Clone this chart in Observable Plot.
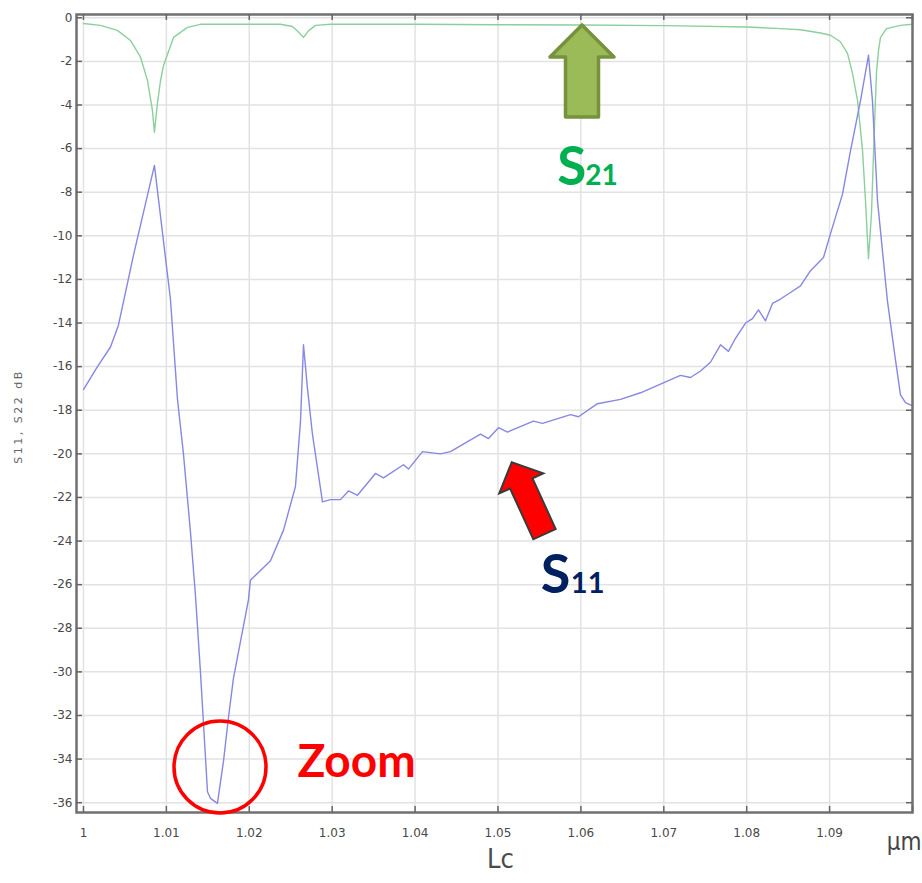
<!DOCTYPE html>
<html>
<head>
<meta charset="utf-8">
<script src="https://cdn.jsdelivr.net/npm/d3@7"></script>
<script src="https://cdn.jsdelivr.net/npm/@observablehq/plot@0.6"></script>
<style>
  html, body { margin: 0; padding: 0; background: #fff; overflow: hidden; }
</style>
</head>
<body>
<div id="chart"></div>
<script>
// ---- Data ----
// S11 (blue)
const lcS11 = [1.0, 1.00169, 1.00326, 1.00422, 1.00603, 1.00856, 1.00989, 1.01049, 1.01134, 1.01206,
  1.01291, 1.01351, 1.01411, 1.01496, 1.01532, 1.01616, 1.01689, 1.01749, 1.01809, 1.0199,
  1.02014, 1.02256, 1.02413, 1.02557, 1.02618, 1.02654, 1.02702, 1.02762, 1.02883, 1.0298,
  1.031, 1.03197, 1.03305, 1.03522, 1.03619, 1.0386, 1.0392, 1.04089, 1.04306, 1.04427,
  1.04789, 1.04885, 1.05006, 1.05115, 1.05428, 1.05537, 1.05875, 1.05971, 1.062, 1.06478,
  1.06719, 1.0696, 1.07201, 1.07322, 1.07443, 1.07563, 1.07684, 1.0778, 1.07865, 1.07986,
  1.0807, 1.08142, 1.08227, 1.08311, 1.08408, 1.08528, 1.08649, 1.0877, 1.08926, 1.09011,
  1.09155, 1.09252, 1.09373, 1.09469, 1.09517, 1.09578, 1.09638, 1.09698, 1.09795, 1.09855,
  1.09916, 1.1];
const dbS11 = [-17.05, -16.0, -15.1, -14.1, -10.9, -6.77, -11.0, -12.9, -17.5, -20.0,
  -23.6, -26.5, -30.0, -35.5, -35.8, -36.03, -34.1, -32.1, -30.3, -26.7,
  -25.8, -24.9, -23.5, -21.5, -18.5, -15.0, -17.0, -19.1, -22.2, -22.1,
  -22.1, -21.7, -21.9, -20.9, -21.1, -20.5, -20.7, -19.9, -20.0, -19.9,
  -19.1, -19.3, -18.8, -19.0, -18.5, -18.6, -18.2, -18.3, -17.7, -17.5,
  -17.2, -16.8, -16.4, -16.5, -16.2, -15.8, -15.0, -15.3, -14.7, -14.0,
  -13.8, -13.4, -13.9, -13.1, -12.9, -12.6, -12.3, -11.6, -11.0, -9.9,
  -8.1, -6.1, -3.8, -1.72, -3.8, -8.4, -10.7, -13.0, -15.7, -17.3,
  -17.65, -17.8];

// S21 (green)
const lcS21 = [1.0, 1.00205, 1.0041, 1.00567, 1.00688, 1.00772, 1.00832, 1.00856, 1.00893, 1.00929,
  1.00965, 1.01086, 1.01255, 1.01411, 1.02014, 1.02376, 1.02521, 1.02593, 1.02654, 1.02714,
  1.02799, 1.0298, 1.04, 1.05, 1.06, 1.07, 1.08, 1.0841, 1.0865, 1.0889,
  1.0901, 1.0913, 1.09216, 1.09276, 1.09337, 1.09397, 1.09433, 1.09469, 1.09505, 1.09541,
  1.09566, 1.0959, 1.09614, 1.09686, 1.09855, 1.1];
const dbS21 = [-0.26, -0.35, -0.58, -1.04, -1.8, -2.87, -4.25, -5.25, -3.9, -2.9,
  -2.2, -0.9, -0.44, -0.3, -0.3, -0.3, -0.4, -0.65, -0.9, -0.6,
  -0.35, -0.3, -0.3, -0.32, -0.33, -0.36, -0.42, -0.5, -0.55, -0.7,
  -0.8, -1.1, -1.63, -2.55, -3.79, -6.08, -8.4, -11.05, -9.0, -5.0,
  -2.5, -1.5, -0.9, -0.5, -0.35, -0.3];

// Axis ticks
const xTicks = [1, 1.01, 1.02, 1.03, 1.04, 1.05, 1.06, 1.07, 1.08, 1.09];
const xTickMarks = [1, 1.01, 1.02, 1.03, 1.04, 1.05, 1.06, 1.07, 1.08, 1.09, 1.1];
const yTicks = [0, -2, -4, -6, -8, -10, -12, -14, -16, -18, -20, -22, -24, -26, -28, -30, -32, -34, -36];

// ---- Layout ----
const W = 922, H = 883;
const mL = 76, mR = 10, mT = 14, mB = 71;
const xDomain = [0.99916, 1.1];
const yDomain = [-36.45, 0.15];
const pxPerX = (W - mL - mR) / (xDomain[1] - xDomain[0]);
const pxPerY = (H - mT - mB) / (yDomain[1] - yDomain[0]);
const tickLen = 6;

const s11Rows = lcS11.map((lc, i) => ({lc, db: dbS11[i]}));
const s21Rows = lcS21.map((lc, i) => ({lc, db: dbS21[i]}));

const tickStyle = {stroke: "#666", strokeWidth: 1.5};

const chart = Plot.plot({
  width: W, height: H,
  marginLeft: mL, marginRight: mR, marginTop: mT, marginBottom: mB,
  style: {fontFamily: "DejaVu Sans, sans-serif", fontSize: "12px", color: "#555", background: "#fff"},
  x: {domain: xDomain, label: null},
  y: {domain: yDomain, label: null},
  marks: [
    Plot.gridX(xTickMarks, {stroke: "#e2e2e2", strokeOpacity: 1, strokeWidth: 1.5}),
    Plot.gridY(yTicks, {stroke: "#e2e2e2", strokeOpacity: 1, strokeWidth: 1.5}),
    Plot.line(s21Rows, {x: "lc", y: "db", stroke: "#8ccf9c", strokeWidth: 1.4}),
    Plot.line(s11Rows, {x: "lc", y: "db", stroke: "#8787e4", strokeWidth: 1.4}),
    Plot.frame({stroke: "#707070", strokeWidth: 2.5}),
    // inward ticks on all four sides
    Plot.ruleX(xTickMarks, {x: d => d, y1: yDomain[0], y2: yDomain[0] + tickLen / pxPerY, ...tickStyle}),
    Plot.ruleX(xTickMarks, {x: d => d, y1: yDomain[1], y2: yDomain[1] - tickLen / pxPerY, ...tickStyle}),
    Plot.ruleY(yTicks, {y: d => d, x1: xDomain[0], x2: xDomain[0] + tickLen / pxPerX, ...tickStyle}),
    Plot.ruleY(yTicks, {y: d => d, x1: xDomain[1], x2: xDomain[1] - tickLen / pxPerX, ...tickStyle}),
    Plot.axisX(xTicks, {tickSize: 0, tickPadding: 16, tickFormat: d => String(+d.toFixed(2)), fontSize: 12, fill: "#484848"}),
    Plot.axisY(yTicks, {tickSize: 0, tickPadding: 4, tickFormat: d => String(d), fontSize: 12, fill: "#484848"}),
    // axis titles
    Plot.text(["S11, S22 dB"], {frameAnchor: "left", textAnchor: "middle", dx: -58, dy: 3, rotate: -90, fontSize: 11, fill: "#666", ariaDescription: "ylabel"}),
    Plot.text(["Lc"], {x: 1.0503, frameAnchor: "bottom", dy: 55, fontSize: 27, fill: "#4a4a4a", fontFamily: "DejaVu Sans Condensed, DejaVu Sans"}),
    Plot.text(["µm"], {frameAnchor: "bottom-right", textAnchor: "end", dx: 9, dy: 37, lineAnchor: "bottom", fontSize: 24, fill: "#444", fontFamily: "DejaVu Sans Condensed, DejaVu Sans"}),
    // annotations
    Plot.dot([{x: 1.01647, y: -34.36}], {x: "x", y: "y", r: 46, stroke: "#ff0000", strokeWidth: 3.5, fill: "none"}),
    Plot.text(["Zoom"], {x: 1.02581, y: -34.84, textAnchor: "start", lineAnchor: "bottom", fontFamily: "Lato", fontWeight: "bold", fontSize: 46, fill: "#ff0000"}),
    Plot.text(["S"], {x: 1.05715, y: -7.69, textAnchor: "start", lineAnchor: "bottom", fontFamily: "Lato", fontWeight: "bold", fontSize: 53, fill: "#00B050"}),
    Plot.text(["21"], {x: 1.05715, y: -7.69, dx: 28, textAnchor: "start", lineAnchor: "bottom", fontFamily: "Lato", fontWeight: "bold", fontSize: 28, fill: "#00B050"}),
    Plot.text(["S"], {x: 1.05517, y: -26.4, textAnchor: "start", lineAnchor: "bottom", fontFamily: "Lato", fontWeight: "bold", fontSize: 54, fill: "#002060"}),
    Plot.text(["11"], {x: 1.05517, y: -26.4, dx: 30, textAnchor: "start", lineAnchor: "bottom", fontFamily: "Lato", fontWeight: "bold", fontSize: 29, fill: "#002060"})
  ]
});

document.getElementById("chart").appendChild(chart);

// letter spacing of the rotated y title
d3.select(chart).selectAll('g[aria-description="ylabel"] text').style("letter-spacing", "2.5px");

// block arrows positioned through the chart's scales
const sx = chart.scale("x"), sy = chart.scale("y");
function arrowPath(tip, tail, s, h, L) {
  const t = [sx.apply(tip[0]), sy.apply(tip[1])];
  const b = [sx.apply(tail[0]), sy.apply(tail[1])];
  const dx = t[0] - b[0], dy = t[1] - b[1], len = Math.hypot(dx, dy);
  const ux = dx / len, uy = dy / len, nx = -uy, ny = ux;
  const hx = t[0] - ux * L, hy = t[1] - uy * L;
  const pts = [
    [b[0] + nx * s, b[1] + ny * s], [hx + nx * s, hy + ny * s], [hx + nx * h, hy + ny * h], t,
    [hx - nx * h, hy - ny * h], [hx - nx * s, hy - ny * s], [b[0] - nx * s, b[1] - ny * s]
  ];
  return "M" + pts.map(p => p[0].toFixed(1) + "," + p[1].toFixed(1)).join("L") + "Z";
}
const svg = d3.select(chart);
svg.append("path")
  .attr("d", arrowPath([1.0602, -0.35], [1.0602, -4.57], 16.5, 32, 32))
  .attr("fill", "#9bbb59").attr("stroke", "#76923c").attr("stroke-width", 3.5).attr("stroke-linejoin", "round");
svg.append("path")
  .attr("d", arrowPath([1.05171, -20.41], [1.05567, -23.71], 12.3, 24.2, 23.2))
  .attr("fill", "#ff0000").attr("stroke", "#3a3a3a").attr("stroke-width", 2).attr("stroke-linejoin", "miter");
</script>
</body>
</html>
